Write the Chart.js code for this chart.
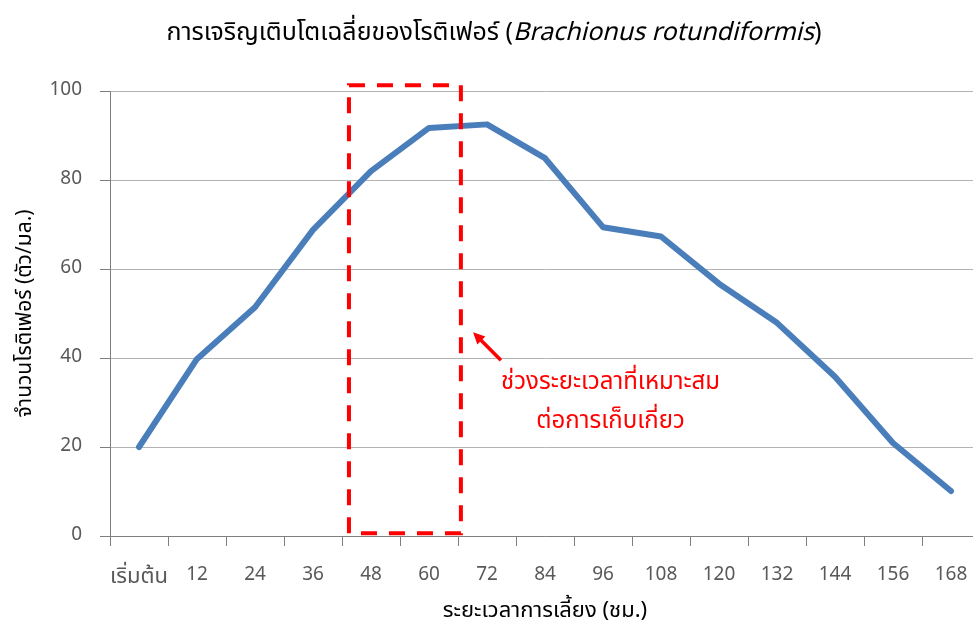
<!DOCTYPE html>
<html>
<head>
<meta charset="utf-8">
<script src="https://cdn.jsdelivr.net/npm/chart.js@4.4.1/dist/chart.umd.min.js"></script>
<style>
  html, body { margin: 0; padding: 0; background: #fff; overflow: hidden; }
  #wrap { width: 973px; height: 628px; overflow: hidden; }
</style>
</head>
<body>
<div id="wrap"><canvas id="myChart" width="981" height="628"></canvas></div>
<script>
// ชั่วโมงที่เลี้ยง
const hours = ['เริ่มต้น', '12', '24', '36', '48', '60', '72', '84', '96', '108', '120', '132', '144', '156', '168'];
// จำนวนโรติเฟอร์ (ตัว/มล.)
const rotifers = [20, 39.8, 51.4, 68.8, 82, 91.7, 92.5, 84.9, 69.4, 67.3, 56.7, 47.9, 35.8, 20.9, 10.1];
const yTicks = [0, 20, 40, 60, 80, 100];

// กรอบช่วงเก็บเกี่ยว (ตำแหน่งตามแกน: index ของหมวด, ค่าแกน y)
const boxX = [3.62, 5.55];
const boxY = [0.6, 101.3];
const noteLines = ['ช่วงระยะเวลาที่เหมาะสม', 'ต่อการเก็บเกี่ยว'];

const thaiFont = '"Noto Sans Thai", "Noto Sans Thai UI", Tahoma, "DejaVu Sans", sans-serif';

// วาดชื่อกราฟ (ตัวเอียงเฉพาะชื่อวิทยาศาสตร์)
const titlePlugin = {
    id: 'titlePlugin',
    afterDraw(chart) {
        const ctx = chart.ctx;
        const part1 = 'การเจริญเติบโตเฉลี่ยของโรติเฟอร์ (';
        const part2 = 'Brachionus rotundiformis';
        const part3 = ')';
        const f1 = '25px ' + thaiFont;
        const f2 = 'italic 25px ' + thaiFont;
        ctx.save();
        ctx.fillStyle = '#000';
        ctx.textBaseline = 'middle';
        ctx.textAlign = 'left';
        ctx.font = f1;
        const w1 = ctx.measureText(part1).width;
        const w3 = ctx.measureText(part3).width;
        ctx.font = f2;
        const w2 = ctx.measureText(part2).width;
        let x = 494 - (w1 + w2 + w3) / 2;
        const y = 35;
        ctx.font = f1;
        ctx.fillText(part1, x, y);
        x += w1;
        ctx.font = f2;
        ctx.fillText(part2, x, y);
        x += w2;
        ctx.font = f1;
        ctx.fillText(part3, x, y);
        ctx.restore();
    }
};

// กรอบเส้นประ ลูกศร และข้อความสีแดง
const notePlugin = {
    id: 'notePlugin',
    afterDatasetsDraw(chart) {
        const ctx = chart.ctx;
        const xs = chart.scales.x;
        const ys = chart.scales.y;
        const left = xs.getPixelForValue(boxX[0]);
        const right = xs.getPixelForValue(boxX[1]);
        const top = ys.getPixelForValue(boxY[1]);
        const bottom = ys.getPixelForValue(boxY[0]);
        ctx.save();
        ctx.strokeStyle = '#ff0000';
        ctx.lineWidth = 4;
        ctx.setLineDash([16, 12]);
        ctx.strokeRect(left, top, right - left, bottom - top);
        ctx.setLineDash([]);

        // ลูกศร
        const tipX = xs.getPixelForValue(5.76), tipY = ys.getPixelForValue(45.8);
        const tailX = xs.getPixelForValue(6.24), tailY = ys.getPixelForValue(39.5);
        ctx.lineWidth = 3.5;
        ctx.beginPath();
        ctx.moveTo(tailX, tailY);
        ctx.lineTo(tipX + 3, tipY + 3);
        ctx.stroke();
        const ang = Math.atan2(tipY - tailY, tipX - tailX);
        ctx.fillStyle = '#ff0000';
        ctx.beginPath();
        ctx.moveTo(tipX, tipY);
        ctx.lineTo(tipX - 13 * Math.cos(ang - 0.45), tipY - 13 * Math.sin(ang - 0.45));
        ctx.lineTo(tipX - 13 * Math.cos(ang + 0.45), tipY - 13 * Math.sin(ang + 0.45));
        ctx.closePath();
        ctx.fill();

        // ข้อความ
        ctx.font = '24px ' + thaiFont;
        ctx.textAlign = 'center';
        ctx.textBaseline = 'middle';
        const cx = xs.getPixelForValue(8.13);
        ctx.fillText(noteLines[0], cx, ys.getPixelForValue(34.2));
        ctx.fillText(noteLines[1], cx, ys.getPixelForValue(25.4));
        ctx.restore();
    }
};

const data = {
    labels: hours,
    datasets: [{
        label: 'โรติเฟอร์',
        data: rotifers,
        borderColor: 'rgb(74, 126, 187)',
        backgroundColor: 'rgb(74, 126, 187)',
        borderWidth: 6,
        pointRadius: 0,
        tension: 0,
        borderJoinStyle: 'round',
        borderCapStyle: 'round'
    }]
};

const config = {
    type: 'line',
    data: data,
    options: {
        responsive: false,
        animation: false,
        layout: { padding: { left: 0, right: 1, top: 91, bottom: 0 } },
        plugins: {
            legend: { display: false },
            tooltip: { enabled: false }
        },
        scales: {
            x: {
                offset: true,
                grid: {
                    offset: true,
                    drawOnChartArea: false,
                    drawTicks: true,
                    tickLength: 10,
                    color: '#7f7f7f'
                },
                border: { color: '#7f7f7f', width: 1 },
                ticks: {
                    color: '#595959',
                    // ป้ายภาษาไทยตัวแรกใหญ่กว่าตัวเลขเล็กน้อย
                    font: (c) => ({ size: c.index === 0 ? 22 : 19, family: thaiFont }),
                    maxRotation: 0,
                    autoSkip: false,
                    padding: 19
                },
                title: {
                    display: true,
                    text: 'ระยะเวลาการเลี้ยง (ชม.)',
                    color: '#000',
                    font: { size: 22, family: thaiFont },
                    padding: { top: 4, bottom: 2 }
                },
                afterFit(scale) {
                    scale.height = 92;
                    scale.paddingLeft = 0;
                    scale.paddingRight = 0;
                }
            },
            y: {
                min: 0,
                max: 100,
                afterBuildTicks(scale) { scale.ticks = yTicks.map(v => ({ value: v })); },
                grid: {
                    color: '#b3b3b3',
                    drawTicks: true,
                    tickLength: 10,
                    tickColor: '#7f7f7f'
                },
                border: { color: '#7f7f7f', width: 1 },
                ticks: {
                    color: '#595959',
                    font: { size: 19, family: thaiFont },
                    padding: 18
                },
                title: {
                    display: true,
                    text: 'จำนวนโรติเฟอร์ (ตัว/มล.)',
                    color: '#000',
                    font: { size: 21, family: thaiFont },
                    padding: { top: 14, bottom: 0 }
                },
                afterFit(scale) {
                    scale.width = 110;
                    scale.paddingTop = 0;
                    scale.paddingBottom = 0;
                }
            }
        }
    },
    plugins: [titlePlugin, notePlugin]
};

const myChart = new Chart(document.getElementById('myChart'), config);
</script>
</body>
</html>
